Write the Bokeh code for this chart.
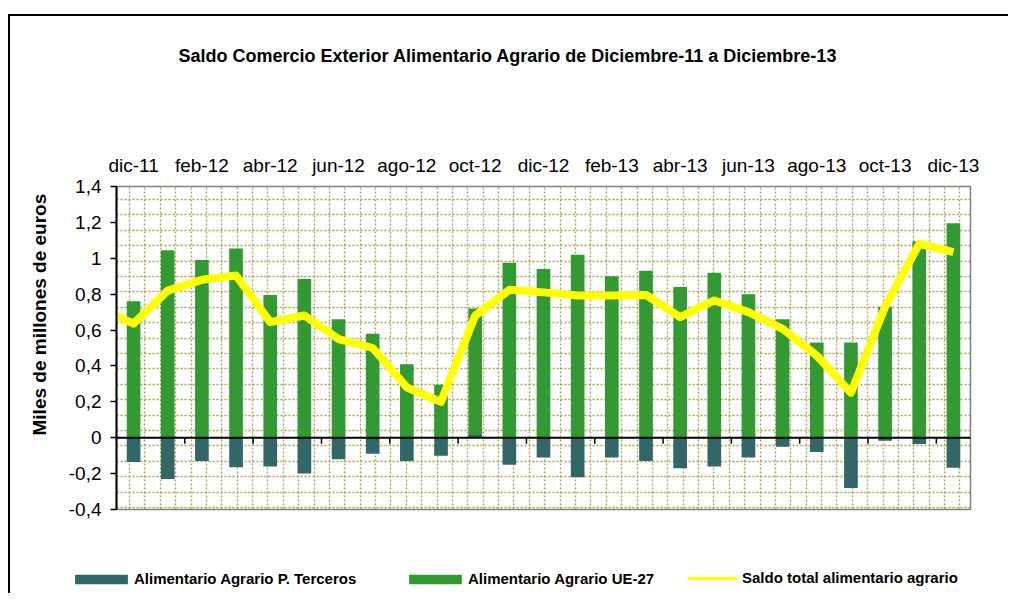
import numpy as np
from bokeh.plotting import figure
from bokeh.models import (Range1d, FixedTicker, Span, Title, Legend, LegendItem,
                          ColumnDataSource, CustomJSTickFormatter)
from bokeh.embed import file_html
from bokeh.resources import INLINE

# ---------------- data ----------------
months = ["dic-11", "ene-12", "feb-12", "mar-12", "abr-12", "may-12", "jun-12",
          "jul-12", "ago-12", "sep-12", "oct-12", "nov-12", "dic-12", "ene-13",
          "feb-13", "mar-13", "abr-13", "may-13", "jun-13", "jul-13", "ago-13",
          "sep-13", "oct-13", "nov-13", "dic-13"]
ue27 = [0.76, 1.045, 0.99, 1.055, 0.795, 0.885, 0.66, 0.58, 0.41, 0.295, 0.72,
        0.975, 0.94, 1.02, 0.90, 0.93, 0.84, 0.92, 0.80, 0.66, 0.53, 0.53, 0.73,
        1.095, 1.195]
terceros = [-0.135, -0.23, -0.13, -0.165, -0.16, -0.20, -0.12, -0.09, -0.13, -0.10,
            0.015, -0.15, -0.11, -0.22, -0.11, -0.13, -0.17, -0.16, -0.11, -0.05,
            -0.08, -0.28, -0.017, -0.035, -0.168]
saldo_months = ["nov-11"] + months
saldo = [0.72, 0.636, 0.82, 0.88, 0.904, 0.644, 0.681, 0.55, 0.50, 0.28, 0.20,
         0.68, 0.824, 0.81, 0.793, 0.793, 0.796, 0.672, 0.765, 0.70, 0.607, 0.458,
         0.25, 0.73, 1.08, 1.034]
y_ticks = [-0.4, -0.2, 0.0, 0.2, 0.4, 0.6, 0.8, 1.0, 1.2, 1.4]
series_names = ["Alimentario Agrario P. Terceros", "Alimentario Agrario UE-27",
                "Saldo total alimentario agrario"]
title_text = "Saldo Comercio Exterior Alimentario Agrario de Diciembre-11 a Diciembre-13"
y_title = "Miles de millones de euros"

FONT = "Liberation Sans"
C_UE = "#339933"
C_TER = "#336666"
C_SALDO = "#FFFF00"

n = len(months)
bar_x = np.arange(n) + 0.5
line_x = np.arange(len(saldo_months)) - 0.5

src = ColumnDataSource(dict(x=bar_x, ue=ue27, ter=terceros, m=months))
line_src = ColumnDataSource(dict(x=line_x, y=saldo, m=saldo_months))

p = figure(width=1000, height=529, x_range=Range1d(0, n), y_range=Range1d(-0.4, 1.4),
           output_backend="svg", toolbar_location=None, x_axis_location="above",
           min_border_left=106, min_border_right=40, min_border_top=170,
           min_border_bottom=36, title=None)
p.styles = {"margin-top": "14px", "margin-left": "8px",
            "border-top": "2px solid #000", "border-left": "2px solid #000"}
p.background_fill_color = "white"
p.border_fill_color = "white"
p.outline_line_color = "#808080"
p.outline_line_width = 1.5

# patterned background (dotted grid)
pat_x = np.arange(0.3806, n, 0.4502)
pat_y = np.arange(1.3275, -0.4, -0.08584)
p.xgrid.ticker = FixedTicker(ticks=pat_x.tolist())
p.ygrid.ticker = FixedTicker(ticks=pat_y.tolist())
for g in (p.xgrid, p.ygrid):
    g.grid_line_color = "#999933"
    g.grid_line_dash = "2 2"
    g.grid_line_width = 1.3
    g.grid_line_alpha = 0.9

p.vbar(x="x", top="ue", bottom=0, width=0.4, source=src,
       fill_color=C_UE, line_color=None)
p.vbar(x="x", top="ter", bottom=0, width=0.4, source=src,
       fill_color=C_TER, line_color=None)

p.add_layout(Span(location=0, dimension="width", line_color="black", line_width=2))
bx = np.arange(2, n, 2)
p.segment(x0=bx, y0=0, x1=bx, y1=-0.033, line_color="black", line_width=1.5)

p.line(x="x", y="y", source=line_src, line_color=C_SALDO, line_width=8,
       line_join="round")

# top axis with month labels
xa = p.xaxis[0]
xa.ticker = FixedTicker(ticks=bar_x[::2].tolist())
xa.major_label_overrides = {float(bar_x[i]): months[i] for i in range(0, n, 2)}
xa.axis_line_color = None
xa.major_tick_line_color = None
xa.minor_tick_line_color = None
xa.major_label_text_font = FONT
xa.major_label_text_font_size = "19px"
xa.major_label_text_color = "black"
xa.major_label_standoff = 5

ya = p.yaxis[0]
ya.ticker = FixedTicker(ticks=y_ticks)
ya.formatter = CustomJSTickFormatter(code="""
const s = tick.toFixed(1).replace('.', ',');
return s.endsWith(',0') ? s.slice(0, -2) : s;
""")
ya.axis_line_width = 2
ya.axis_line_color = "black"
ya.major_tick_line_width = 1.5
ya.major_tick_in = 0
ya.major_tick_out = 6
ya.minor_tick_line_color = None
ya.major_label_standoff = 9
ya.major_label_text_font = FONT
ya.major_label_text_font_size = "19px"
ya.major_label_text_color = "black"

# vertical axis title (as a left-side title so it can sit above centre)
p.add_layout(Title(text=y_title, align="left", offset=74, standoff=31,
                   text_font=FONT, text_font_size="19px", text_font_style="bold",
                   text_color="black"), "left")

# spacer between month labels and title, then the title itself
p.add_layout(Title(text=" ", standoff=68, text_font_size="10px"), "above")
p.add_layout(Title(text=title_text, align="left", offset=62, standoff=10,
                   text_font=FONT, text_font_size="18px", text_font_style="bold",
                   text_color="black"), "above")

# legend strip (separate root below the chart)
q = figure(width=1000, height=50, x_range=Range1d(-100, -99), y_range=Range1d(-100, -99),
           output_backend="svg", toolbar_location=None, x_axis_location=None,
           y_axis_location=None, min_border=0, title=None)
q.styles = {"margin-left": "8px", "border-left": "2px solid #000"}
q.grid.visible = False
q.outline_line_color = None
q.background_fill_color = "white"
q.border_fill_color = "white"
l_ter = q.vbar(x="x", top="ter", width=0.4, source=src, fill_color=C_TER, line_color=None)
l_ue = q.vbar(x="x", top="ue", width=0.4, source=src, fill_color=C_UE, line_color=None)
l_sal = q.line(x="x", y="y", source=line_src, line_color=C_SALDO, line_width=3)

leg_common = dict(orientation="horizontal", label_height=10, padding=0, margin=0,
                  label_text_font=FONT, label_text_font_size="15px",
                  label_text_font_style="bold", label_text_color="black",
                  border_line_color=None, background_fill_alpha=0)
q.add_layout(Legend(items=[LegendItem(label=series_names[0], renderers=[l_ter])],
                    location=(58, 6), glyph_width=66, glyph_height=12,
                    label_standoff=0, **leg_common), "center")
q.add_layout(Legend(items=[LegendItem(label=series_names[1], renderers=[l_ue])],
                    location=(392, 6), glyph_width=66, glyph_height=12,
                    label_standoff=0, **leg_common), "center")
q.add_layout(Legend(items=[LegendItem(label=series_names[2], renderers=[l_sal])],
                    location=(677, 7), glyph_width=50, glyph_height=10,
                    label_standoff=5, **leg_common), "center")

open("out.html", "w").write(file_html([p, q], INLINE))
